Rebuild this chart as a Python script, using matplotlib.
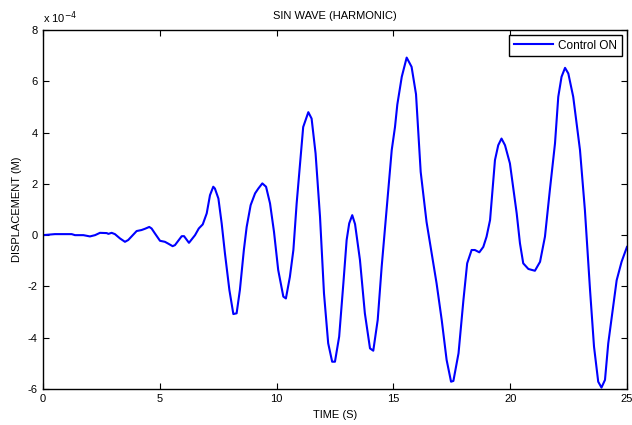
import matplotlib
matplotlib.use('Agg')
import matplotlib.pyplot as plt
from matplotlib.ticker import FuncFormatter

# time (s) and displacement (units of 1e-4 m)
time_s = [0.0, 0.51, 1.23, 1.37, 1.73, 2.01, 2.23, 2.44, 2.73, 2.80, 2.94, 3.08, 3.30, 3.51, 3.65,
          4.01, 4.22, 4.37, 4.55, 4.65, 4.79, 5.01, 5.22, 5.36, 5.55, 5.65, 5.94, 6.04, 6.25, 6.51,
          6.67, 6.84, 7.01, 7.15, 7.29, 7.36, 7.51, 7.65, 7.79, 7.98, 8.15, 8.29, 8.43, 8.60, 8.72,
          8.89, 9.08, 9.22, 9.39, 9.55, 9.72, 9.89, 10.07, 10.29, 10.40, 10.57, 10.72, 10.86, 10.98,
          11.14, 11.36, 11.50, 11.67, 11.86, 12.03, 12.21, 12.38, 12.50, 12.68, 12.86, 13.00, 13.11,
          13.24, 13.36, 13.57, 13.78, 14.00, 14.14, 14.33, 14.50, 14.71, 14.93, 15.07, 15.17, 15.36,
          15.57, 15.78, 15.97, 16.17, 16.42, 16.85, 17.07, 17.28, 17.47, 17.57, 17.79, 18.00, 18.16,
          18.35, 18.49, 18.68, 18.85, 18.99, 19.14, 19.35, 19.49, 19.63, 19.78, 19.99, 20.28, 20.42,
          20.56, 20.78, 21.06, 21.28, 21.49, 21.70, 21.92, 22.06, 22.20, 22.35, 22.49, 22.70, 22.99,
          23.20, 23.42, 23.59, 23.77, 23.91, 24.06, 24.20, 24.39, 24.56, 24.77, 25.0]
disp_e4 = [0.0, 0.04, 0.04, 0.0, 0.0, -0.05, 0.0, 0.09, 0.08, 0.05, 0.09, 0.04, -0.13, -0.26, -0.19,
           0.16, 0.20, 0.25, 0.32, 0.26, 0.07, -0.22, -0.26, -0.33, -0.43, -0.39, -0.04, -0.04, -0.30, 0.0,
           0.26, 0.42, 0.85, 1.56, 1.89, 1.82, 1.43, 0.46, -0.71, -2.14, -3.08, -3.05, -2.14, -0.58, 0.32,
           1.17, 1.63, 1.82, 2.02, 1.89, 1.24, 0.13, -1.36, -2.40, -2.47, -1.63, -0.58, 1.24, 2.50,
           4.22, 4.80, 4.55, 3.19, 0.72, -2.27, -4.22, -4.94, -4.94, -3.96, -1.88, -0.19, 0.46,
           0.78, 0.43, -0.97, -3.05, -4.42, -4.51, -3.31, -1.23, 0.98, 3.32, 4.22, 5.10, 6.18,
           6.93, 6.57, 5.50, 2.47, 0.52, -1.88, -3.31, -4.87, -5.72, -5.69, -4.61, -2.53, -1.10,
           -0.58, -0.58, -0.67, -0.46, -0.06, 0.59, 2.93, 3.51, 3.77, 3.51, 2.80, 0.85, -0.32,
           -1.10, -1.32, -1.39, -1.04, -0.06, 1.76, 3.58, 5.40, 6.18, 6.53, 6.31, 5.40, 3.32,
           0.98, -2.14, -4.35, -5.72, -5.95, -5.65, -4.22, -2.93, -1.76, -1.04, -0.46]

x_ticks = [0, 5, 10, 15, 20, 25]
y_ticks = [-6, -4, -2, 0, 2, 4, 6, 8]

plt.rcParams['font.family'] = ['Liberation Sans', 'DejaVu Sans']
plt.rcParams['font.size'] = 8

fig = plt.figure(figsize=(6.32, 4.25), dpi=100)
ax = fig.add_axes([0.068, 0.085, 0.924, 0.844])
ax.plot(time_s, [v * 1e-4 for v in disp_e4], color='#0000ff', lw=1.5, label='Control ON')

ax.set_xlim(0, 25)
ax.set_ylim(-6e-4, 8e-4)
ax.set_xticks(x_ticks)
ax.set_yticks([v * 1e-4 for v in y_ticks])
ax.yaxis.set_major_formatter(FuncFormatter(lambda v, pos: f'{v * 1e4:g}'))
ax.tick_params(direction='in', length=4, width=0.8, top=True, right=True, pad=4, colors='black')
for s in ax.spines.values():
    s.set_linewidth(1.0)

ax.text(0.0, 1.012, r'x 10$^{-4}$', transform=ax.transAxes, ha='left', va='bottom', fontsize=8)
ax.set_title('SIN WAVE (HARMONIC)', fontsize=8, pad=8)
ax.set_xlabel('TIME (S)', fontsize=8, labelpad=4)
ax.set_ylabel('DISPLACEMENT (M)', fontsize=8, labelpad=4)

leg = ax.legend(loc='upper right', fancybox=False, framealpha=1, edgecolor='black',
                borderaxespad=0.4, handlelength=3.3, handletextpad=0.5, fontsize=8.5)
leg.get_frame().set_linewidth(1.0)

fig.savefig('out.png', dpi=100)
